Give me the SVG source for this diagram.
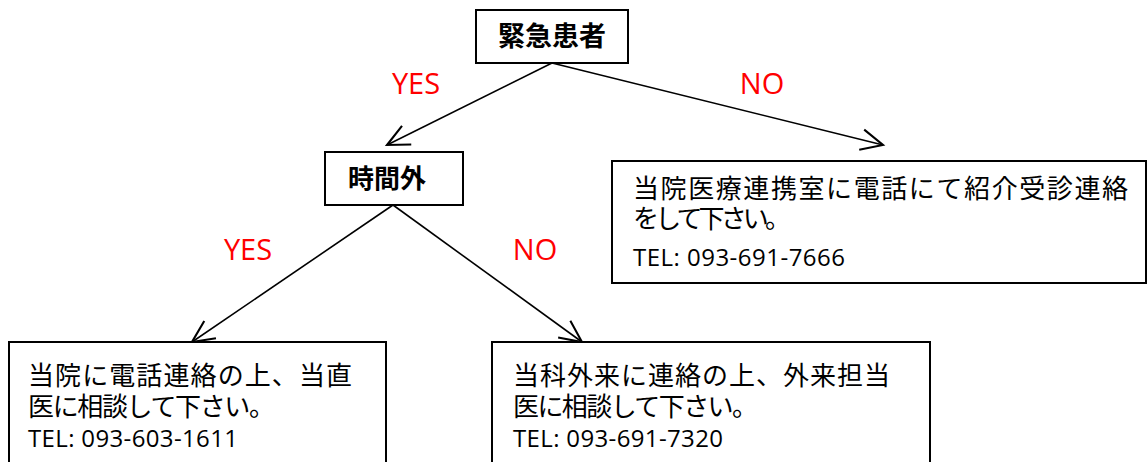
<svg xmlns="http://www.w3.org/2000/svg" width="1148" height="462" viewBox="0 0 1148 462">
<style>
.box{fill:#fff;stroke:#000;stroke-width:2}
.conn{stroke:#000;stroke-width:1.6;fill:none}
.ttl{font-family:"Noto Sans CJK JP",sans-serif;font-weight:bold;fill:#000;text-anchor:middle}
.jp{font-family:"Noto Sans CJK JP",sans-serif;font-size:26px;fill:#000}
.tel{font-family:"Open Sans","Noto Sans",sans-serif;font-size:24px;fill:#000}
.lbl{font-family:"Open Sans","Noto Sans",sans-serif;font-size:29px;fill:#ff0000;text-anchor:middle}
</style>
<defs>
<marker id="arr" markerUnits="userSpaceOnUse" markerWidth="30" markerHeight="30" viewBox="-22 -12 26 24" refX="0" refY="0" orient="auto">
<path d="M-19,-9 L0,0 L-19,9" fill="none" stroke="#000" stroke-width="1.8"/>
</marker>
</defs>
<g id="connectors">
<line class="conn" x1="552" y1="63" x2="387" y2="145" marker-end="url(#arr)"/>
<line class="conn" x1="552" y1="63" x2="883" y2="145" marker-end="url(#arr)"/>
<line class="conn" x1="393" y1="205" x2="192" y2="342" marker-end="url(#arr)"/>
<line class="conn" x1="393" y1="205" x2="582" y2="342" marker-end="url(#arr)"/>
<text class="lbl" x="416" y="94">YES</text>
<text class="lbl" x="762" y="94">NO</text>
<text class="lbl" x="248" y="260">YES</text>
<text class="lbl" x="535" y="260">NO</text>
</g>
<g id="emergency">
<rect class="box" x="476" y="10" width="152" height="53"/>
<text class="ttl" x="552" y="46" font-size="27">緊急患者</text>
</g>
<g id="afterhours">
<rect class="box" x="325" y="152" width="138" height="53"/>
<text class="ttl" x="387" y="188" font-size="26">時間外</text>
</g>
<g id="renkei">
<rect class="box" x="612" y="161" width="534" height="122"/>
<text class="jp" x="633" y="198" textLength="495" lengthAdjust="spacing">当院医療連携室に電話にて紹介受診連絡</text>
<text class="jp" x="633" y="228" textLength="158" lengthAdjust="spacing">をして下さい。</text>
<text class="tel" x="633" y="266" textLength="212" lengthAdjust="spacing">TEL: 093-691-7666</text>
</g>
<g id="touchoku">
<rect class="box" x="9" y="342" width="377" height="130"/>
<text class="jp" x="28" y="385" textLength="324" lengthAdjust="spacing">当院に電話連絡の上、当直</text>
<text class="jp" x="28" y="416" textLength="247" lengthAdjust="spacing">医に相談して下さい。</text>
<text class="tel" x="28" y="447" textLength="210" lengthAdjust="spacing">TEL: 093-603-1611</text>
</g>
<g id="gairai">
<rect class="box" x="492" y="342" width="438" height="130"/>
<text class="jp" x="513" y="385" textLength="377" lengthAdjust="spacing">当科外来に連絡の上、外来担当</text>
<text class="jp" x="513" y="416" textLength="245" lengthAdjust="spacing">医に相談して下さい。</text>
<text class="tel" x="513" y="447" textLength="210" lengthAdjust="spacing">TEL: 093-691-7320</text>
</g>
</svg>
